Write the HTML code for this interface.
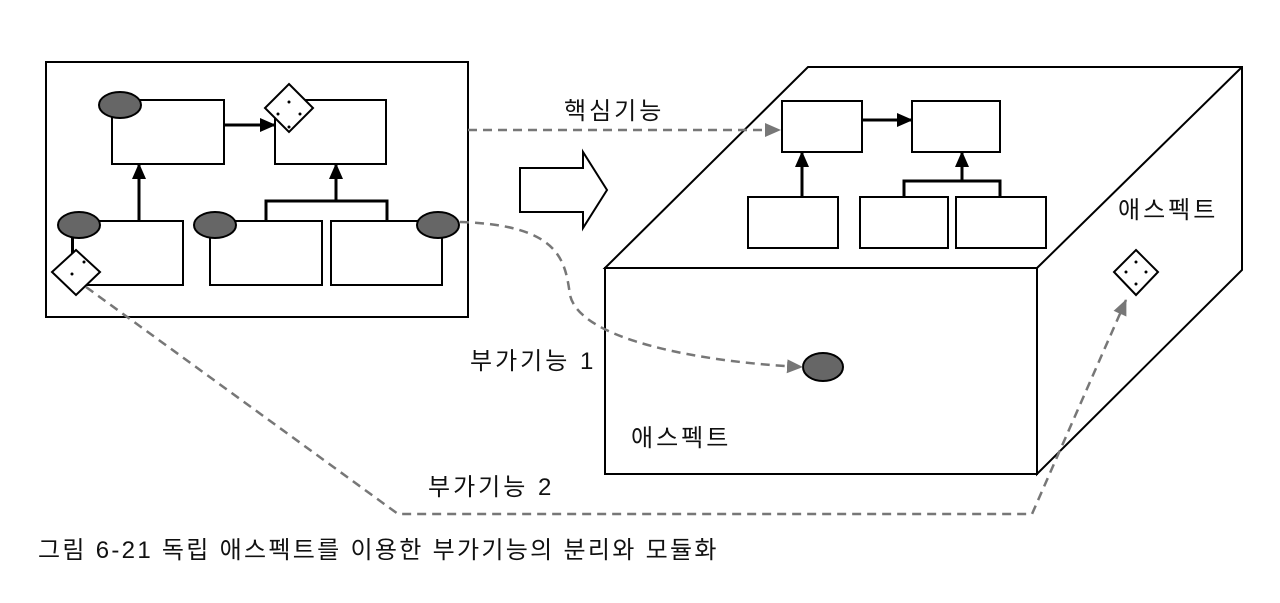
<!DOCTYPE html>
<html><head><meta charset="utf-8"><style>
body{margin:0;background:#fff;width:1280px;height:598px;overflow:hidden}
svg text{font-family:"Liberation Sans","Noto Sans CJK KR",sans-serif;fill:#111}
</style></head><body>
<svg width="1280" height="598" viewBox="0 0 1280 598" xmlns="http://www.w3.org/2000/svg">
<defs>
<marker id="bkb" markerWidth="16" markerHeight="14" refX="15" refY="7" orient="auto" markerUnits="userSpaceOnUse"><path d="M0,0 L16,7 L0,14z" fill="#000"/></marker>
<marker id="gr" markerWidth="16" markerHeight="14" refX="15" refY="7" orient="auto" markerUnits="userSpaceOnUse"><path d="M0,0 L16,7 L0,14z" fill="#777"/></marker>
</defs>
<g fill="#fff" stroke="#000" stroke-width="2">
<rect x="46" y="62" width="422" height="255"/>
<rect x="112" y="100" width="112" height="64"/>
<rect x="275" y="100" width="111" height="64"/>
<rect x="73" y="221" width="110" height="64"/>
<rect x="210" y="221" width="112" height="64"/>
<rect x="331" y="221" width="111" height="64"/>
</g>
<g stroke="#000" stroke-width="3" fill="none">
<line x1="224" y1="125" x2="275" y2="125" marker-end="url(#bkb)"/>
<line x1="139" y1="221" x2="139" y2="164" marker-end="url(#bkb)"/>
<polyline points="266,221 266,201 387,201 387,221"/>
<line x1="336" y1="201" x2="336" y2="164" marker-end="url(#bkb)"/>
</g>
<line x1="72" y1="235" x2="72" y2="255" stroke="#000" stroke-width="2"/>
<line x1="442" y1="235" x2="442" y2="285" stroke="#000" stroke-width="2"/>
<!-- hollow arrow -->
<path d="M520,168 L583,168 L583,152 L607,190 L583,228 L583,212 L520,212z" fill="#fff" stroke="#000" stroke-width="2"/>
<!-- 3D box -->
<g fill="#fff" stroke="#000" stroke-width="2">
<path d="M605,268 L808,67 L1242,67 L1242,270 L1037,474 L1037,268z"/>
<line x1="1037" y1="268" x2="1242" y2="67"/>
<rect x="605" y="268" width="432" height="206"/>
<rect x="782" y="101" width="80" height="51"/>
<rect x="912" y="101" width="88" height="51"/>
<rect x="748" y="197" width="90" height="51"/>
<rect x="860" y="197" width="88" height="51"/>
<rect x="956" y="197" width="90" height="51"/>
</g>
<g stroke="#000" stroke-width="3" fill="none">
<line x1="862" y1="120" x2="912" y2="120" marker-end="url(#bkb)"/>
<line x1="802" y1="197" x2="802" y2="152" marker-end="url(#bkb)"/>
<polyline points="904,197 904,181 1000,181 1000,197"/>
<line x1="962" y1="181" x2="962" y2="152" marker-end="url(#bkb)"/>
</g>
<g fill="#666" stroke="#000" stroke-width="2">
<ellipse cx="120" cy="105" rx="21" ry="13"/>
<ellipse cx="79" cy="225" rx="21" ry="13"/>
<ellipse cx="215" cy="225" rx="21" ry="13"/>
<ellipse cx="438" cy="225" rx="21" ry="13"/>
<ellipse cx="823" cy="367" rx="20" ry="14"/>
</g>
<g fill="#fff" stroke="#000" stroke-width="2">
<path d="M289,84 L313,108 L289,132 L265,108z"/>
<path d="M76,250 L100,272 L76,295 L52,272z"/>
<path d="M1136,250 L1158,272 L1136,295 L1114,272z"/>
</g>
<g fill="#000"><circle cx="289" cy="102" r="1.5"/><circle cx="278" cy="114" r="1.5"/><circle cx="300" cy="114" r="1.5"/><circle cx="289" cy="127" r="1.5"/>
<circle cx="84" cy="262" r="1.5"/><circle cx="72" cy="274" r="1.5"/>
<circle cx="1136" cy="262" r="1.5"/><circle cx="1126" cy="272" r="1.5"/><circle cx="1146" cy="272" r="1.5"/><circle cx="1136" cy="284" r="1.5"/></g>
<!-- dashed connectors -->
<g stroke="#777" stroke-width="2.5" fill="none" stroke-dasharray="9,6">
<line x1="468" y1="130" x2="780" y2="130" marker-end="url(#gr)"/>
<path d="M460,222 C560,225 565,260 570,295 C580,340 700,362 802,367" marker-end="url(#gr)"/>
<polyline points="86,287 398,514 1032,514 1126,300" marker-end="url(#gr)"/>
</g>
<g font-size="24" letter-spacing="3">
<text x="564" y="119">핵심기능</text>
<text x="470" y="369">부가기능 1</text>
<text x="428" y="495">부가기능 2</text>
<text x="1118" y="218">애스펙트</text>
<text x="631" y="446">애스펙트</text>
</g>
<text x="38" y="558" font-size="24" letter-spacing="2.3">그림 6-21 독립 애스펙트를 이용한 부가기능의 분리와 모듈화</text>
</svg>
</body></html>
